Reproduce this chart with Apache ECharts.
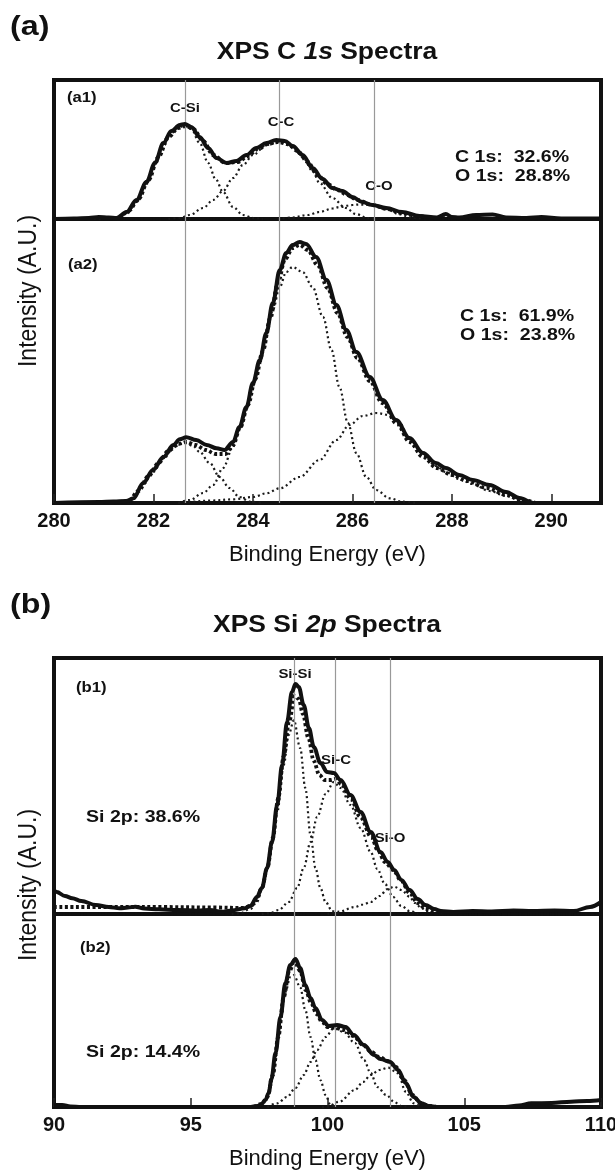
<!DOCTYPE html>
<html>
<head>
<meta charset="utf-8">
<title>XPS C 1s / Si 2p spectra</title>
<script src="https://cdn.jsdelivr.net/npm/echarts@6/dist/echarts.min.js"></script>
<style>
  html, body { margin: 0; padding: 0; background: #fff; }
  #chart { width: 615px; height: 1173px; }
</style>
</head>
<body>
<div id="chart"></div>
<script>
// values, intensity in arbitrary units above each panel's baseline
const cTicks = [280, 282, 284, 286, 288, 290]
const siTicks = [90, 95, 100, 105, 110]
const cPeakLines = [282.64, 284.52, 286.45] // C-Si, C-C, C-O
const siPeakLines = [98.8, 100.3, 102.3] // Si-Si, Si-C, Si-O

// (a1)
const a1Measured = [[280, 0], [280.4, 0.5], [280.7, 1], [280.9, 2], [281.1, 1.5], [281.26, 1], [281.46, 7], [281.66, 19], [281.86, 37], [282.03, 56], [282.2, 76], [282.36, 88], [282.53, 94], [282.63, 95], [282.76, 92], [282.93, 82], [283.1, 71], [283.27, 61], [283.47, 56], [283.67, 58], [283.87, 64], [284.07, 71], [284.27, 76], [284.47, 79], [284.64, 78], [284.8, 73], [285.0, 64], [285.2, 51], [285.4, 40], [285.6, 31], [285.8, 28], [286.0, 22], [286.2, 17], [286.4, 14], [286.68, 11], [287.0, 7], [287.35, 3], [287.7, 1.5], [287.88, 5], [288.0, 2], [288.15, 1.5], [288.49, 4], [288.82, 4.5], [289.09, 1.5], [289.5, 1], [289.8, 2], [290.2, 0.5], [291, 0.5]]
const a1Fit = [[281.0, 0], [281.3, 1], [281.5, 8], [281.7, 20], [281.9, 39], [282.1, 62], [282.3, 82], [282.5, 91], [282.65, 93], [282.8, 90], [283.0, 78], [283.2, 64], [283.45, 56], [283.7, 57], [283.9, 63], [284.1, 70], [284.3, 75], [284.5, 77], [284.7, 75], [284.9, 68], [285.1, 57], [285.3, 44], [285.5, 35], [285.7, 29], [285.9, 24], [286.1, 19], [286.4, 14], [286.7, 10], [287.0, 6], [287.3, 3], [287.7, 1], [288.2, 0]]
const a1CSi = [[280.8, 0], [281.1, 0.5], [281.3, 2], [281.46, 5], [281.66, 17], [281.86, 35], [282.03, 54], [282.2, 73], [282.36, 86], [282.53, 92], [282.63, 93], [282.76, 90], [282.93, 76], [283.1, 56], [283.25, 40], [283.4, 27], [283.6, 12], [283.8, 4], [284.0, 1], [284.2, 0]]
const a1CC = [[282.3, 0], [282.53, 1], [282.73, 4], [283.0, 11], [283.2, 19], [283.4, 28], [283.6, 41], [283.8, 54], [284.0, 64], [284.27, 74], [284.54, 77], [284.8, 72], [285.0, 62], [285.2, 48], [285.34, 36], [285.6, 21], [285.87, 11], [286.07, 5], [286.3, 1], [286.5, 0]]
const a1CO = [[284.5, 0], [284.8, 1.5], [285.1, 4], [285.34, 7], [285.6, 10.5], [285.74, 12], [286.0, 14], [286.14, 14.5], [286.4, 14], [286.68, 10], [286.95, 4.7], [287.2, 1.3], [287.45, 0]]
const a1Base = [[280, 0], [291, 0]]

// (a2)
const a2Measured = [[280, 0], [280.9, 1], [281.2, 1.5], [281.45, 2], [281.6, 4.7], [281.79, 19.7], [281.99, 33], [282.2, 46], [282.4, 58], [282.53, 63.7], [282.66, 65.7], [282.86, 63], [283.07, 58], [283.27, 54.7], [283.43, 53], [283.6, 61], [283.73, 76], [283.87, 96], [284.0, 120], [284.14, 143], [284.27, 170], [284.4, 200], [284.54, 233], [284.67, 250], [284.8, 258], [284.94, 261], [285.07, 259], [285.27, 246], [285.48, 223], [285.68, 198], [285.88, 173], [286.08, 151], [286.35, 126], [286.61, 103], [286.88, 83], [287.15, 65], [287.42, 50], [287.68, 40], [287.88, 35], [288.15, 28], [288.42, 23], [288.76, 18], [289.09, 11], [289.36, 5], [289.64, 0], [291, 0]]
const a2Fit = [[281.2, 0], [281.5, 2], [281.7, 12], [281.9, 27], [282.1, 40], [282.3, 52], [282.5, 59], [282.66, 61], [282.85, 58], [283.05, 53], [283.25, 49], [283.45, 49], [283.6, 58], [283.75, 76], [283.9, 98], [284.05, 124], [284.2, 152], [284.35, 185], [284.5, 220], [284.65, 244], [284.8, 255], [284.94, 258], [285.1, 253], [285.3, 238], [285.5, 215], [285.7, 190], [285.9, 166], [286.1, 145], [286.35, 122], [286.6, 100], [286.9, 79], [287.15, 61], [287.42, 46], [287.7, 35], [288.0, 28], [288.3, 22], [288.7, 15], [289.1, 8], [289.4, 3], [289.7, 0]]
const a2CSi = [[281.2, 0], [281.45, 1], [281.6, 4], [281.79, 18], [281.99, 31], [282.2, 44], [282.4, 55], [282.53, 59], [282.63, 60], [282.8, 57], [282.93, 51], [283.13, 40], [283.33, 26], [283.53, 15], [283.73, 6], [283.94, 1.3], [284.2, 0]]
const a2CC = [[282.5, 0], [282.73, 3], [283.0, 10], [283.2, 18], [283.4, 35], [283.6, 56], [283.73, 75], [283.87, 94], [284.0, 117], [284.14, 140], [284.27, 166], [284.4, 193], [284.54, 216], [284.67, 231], [284.8, 236], [285.0, 231], [285.2, 216], [285.41, 186], [285.58, 153], [285.74, 116], [285.91, 80], [286.08, 50], [286.28, 26], [286.48, 13], [286.75, 4.7], [287.0, 1.3], [287.3, 0]]
const a2CO = [[282.5, 0], [282.73, 1.3], [283.2, 2.5], [283.6, 3.7], [284.0, 6], [284.27, 9.7], [284.54, 14.7], [284.94, 26], [285.34, 43], [285.68, 63], [285.94, 78], [286.21, 87], [286.48, 90], [286.75, 88], [286.95, 80], [287.15, 64], [287.42, 48], [287.68, 37], [287.88, 31], [288.15, 24], [288.42, 19], [288.76, 12], [289.09, 7], [289.36, 3], [289.7, 0]]

// (b1)
const b1Measured = [[90, 24], [90.1, 22], [90.4, 18], [90.67, 15.7], [91.0, 13], [91.53, 9], [92.0, 7], [92.4, 5.7], [92.7, 6.5], [92.97, 7.3], [93.3, 5.5], [93.83, 4.7], [94.5, 4], [95.26, 3.3], [95.7, 4], [96.12, 2.3], [96.5, 3.5], [96.98, 5.7], [97.18, 8], [97.42, 17], [97.6, 26], [97.79, 46], [97.97, 72], [98.16, 109], [98.34, 149], [98.52, 192], [98.7, 222], [98.83, 230], [98.95, 227], [99.13, 209], [99.32, 186], [99.5, 167], [99.74, 151], [99.99, 142], [100.23, 141], [100.48, 134], [100.84, 119], [101.21, 102], [101.58, 82], [101.94, 62], [102.2, 52], [102.44, 44], [102.7, 34], [103.0, 24], [103.3, 15], [103.58, 9], [103.9, 5], [104.15, 3], [104.6, 2], [105.3, 3], [106, 2.5], [106.8, 3.5], [107.5, 3], [108.3, 3.5], [109, 3], [109.6, 7], [110, 12]]
const b1Fit = [[90, 7], [92, 7], [94, 7], [96, 6.5], [96.9, 6], [97.2, 8], [97.4, 14], [97.6, 26], [97.8, 46], [98.0, 76], [98.2, 116], [98.4, 158], [98.6, 193], [98.8, 218], [98.95, 215], [99.1, 200], [99.3, 176], [99.5, 153], [99.7, 139], [99.9, 134], [100.1, 134], [100.3, 135], [100.5, 130], [100.85, 115], [101.2, 97], [101.6, 77], [101.85, 63], [102.1, 52], [102.4, 44], [102.7, 33], [103.0, 21], [103.3, 11], [103.6, 5], [103.9, 2], [104.3, 0], [110, 0]]
const b1SiSi = [[96.5, 0], [96.8, 0.7], [97.18, 5], [97.42, 12], [97.6, 24], [97.79, 44], [97.97, 70], [98.16, 102], [98.4, 149], [98.58, 179], [98.77, 194], [99.0, 166], [99.19, 126], [99.38, 79], [99.56, 46], [99.74, 26], [99.93, 12], [100.17, 3], [100.4, 0]]
const b1SiC = [[97.6, 0], [97.9, 1], [98.22, 4], [98.58, 12], [98.89, 26], [99.13, 46], [99.38, 72], [99.62, 97], [99.93, 120], [100.23, 132], [100.48, 126], [100.84, 109], [101.21, 86], [101.58, 62], [101.82, 45], [102.1, 30], [102.4, 17], [102.7, 8], [103.0, 3], [103.3, 0]]
const b1SiO = [[100.0, 0], [100.43, 2.3], [101.0, 7], [101.3, 9.5], [101.58, 12], [101.9, 18], [102.2, 25], [102.44, 27.3], [102.7, 24], [103.0, 17.3], [103.2, 11], [103.44, 5.7], [103.7, 2.5], [103.9, 1], [104.2, 0]]
const b1Base = [[90, 0], [110, 0]]

// (b2)
const b2Measured = [[90, 2], [90.3, 2], [90.6, 0.5], [91, 0], [97.2, 0], [97.42, 1], [97.56, 2], [97.73, 7], [97.85, 14], [97.95, 28], [98.1, 54], [98.28, 90], [98.46, 124], [98.64, 142], [98.83, 148], [99.0, 139], [99.19, 122], [99.38, 109], [99.56, 99], [99.8, 87], [100.05, 81], [100.35, 82], [100.66, 80], [100.96, 72], [101.33, 62], [101.7, 52], [101.94, 48], [102.29, 45], [102.58, 37], [102.86, 24], [103.15, 10], [103.44, 3.7], [103.7, 1], [104, 0], [106.5, 0], [107, 1.5], [107.45, 3.7], [108.2, 4], [108.9, 5.3], [109.5, 6], [110, 7]]
const b2Fit = [[97.3, 0], [97.6, 3], [97.8, 10], [98.0, 32], [98.2, 70], [98.4, 110], [98.6, 136], [98.8, 145], [99.0, 136], [99.2, 117], [99.4, 104], [99.6, 93], [99.8, 85], [100.0, 80], [100.3, 79], [100.6, 77], [100.95, 71], [101.3, 62], [101.6, 55], [101.9, 50], [102.2, 46], [102.5, 40], [102.8, 27], [103.1, 12], [103.4, 4], [103.7, 1], [104, 0]]
const b2SiSi = [[97.5, 0], [97.73, 6], [97.91, 20], [98.1, 50], [98.28, 85], [98.46, 115], [98.64, 130], [98.77, 132], [99.0, 120], [99.19, 97], [99.38, 70], [99.56, 47], [99.74, 27], [99.93, 12], [100.11, 2], [100.3, 0]]
const b2SiC = [[97.8, 0], [98.16, 3.7], [98.52, 10], [98.83, 19], [99.13, 32], [99.38, 45], [99.62, 57], [99.93, 70], [100.23, 78.7], [100.6, 75], [101.0, 64], [101.33, 47], [101.58, 34], [101.82, 20], [102.15, 12], [102.44, 5], [102.7, 1], [103.0, 0]]
const b2SiO = [[99.8, 0], [100.0, 0.3], [100.43, 5.3], [101.0, 17], [101.3, 25], [101.58, 32], [101.9, 37], [102.22, 39.3], [102.58, 33.7], [102.86, 15.3], [103.15, 3.7], [103.4, 0]]

// panel y ranges (a1, a2, b1, b2)
const yMax = [139, 284, 256, 193]

const FONT = '"Liberation Sans", Arial, Helvetica, sans-serif'
const INK = '#111'
const STRETCH = 1.15 // the printed figure is a little wider than tall

const styles = {
  measured: { color: INK, width: 4, type: 'solid' },
  fit: { color: INK, width: 3.8, type: [3, 2.5] },
  comp: { color: '#1a1a1a', width: 2.2, type: [2, 3] },
  base: { color: INK, width: 3, type: [9, 3, 3, 3] }
}

const peakLines = (values) => ({
  silent: true,
  symbol: 'none',
  label: { show: false },
  lineStyle: { color: '#999', width: 1.2, type: 'solid' },
  data: values.map((v) => ({ xAxis: v }))
})

const line = (grid, data, kind, extra = {}) => ({
  type: 'line',
  xAxisIndex: grid,
  yAxisIndex: grid,
  data,
  smooth: 0.35,
  smoothMonotone: 'x',
  showSymbol: false,
  silent: true,
  animation: false,
  z: kind === 'measured' ? 5 : 3,
  lineStyle: styles[kind],
  ...extra
})

const xAxis = (grid, ticks, max, labelled, showMax) => ({
  type: 'value',
  gridIndex: grid,
  min: ticks[0],
  max,
  interval: ticks[1] - ticks[0],
  axisLine: { show: false },
  splitLine: { show: false },
  axisTick: { show: labelled, inside: true, length: 9, lineStyle: { color: '#222', width: 1.5 } },
  axisLabel: {
    show: labelled,
    color: INK,
    fontFamily: FONT,
    fontWeight: 'bold',
    fontSize: 20,
    margin: 8,
    showMinLabel: true,
    showMaxLabel: showMax
  },
  name: labelled ? 'Binding Energy (eV)' : '',
  nameLocation: 'middle',
  nameGap: 41,
  nameTextStyle: { color: INK, fontFamily: FONT, fontSize: 22 }
})

const text = (str, x, y, size, opts = {}) => ({
  type: 'text',
  silent: true,
  x,
  y,
  rotation: opts.rotation || 0,
  scaleX: opts.rotation ? 1 : STRETCH,
  scaleY: opts.rotation ? STRETCH : 1,
  style: {
    text: str,
    font: `${opts.weight || 'bold'} ${size}px ${FONT}`,
    fill: INK,
    textAlign: opts.align || 'left',
    textVerticalAlign: 'middle',
    rich: opts.rich
  }
})

const italic = (size) => ({ i: { fontStyle: 'italic', fontWeight: 'bold', fontSize: size, fontFamily: FONT, fill: INK } })

const chart = echarts.init(document.getElementById('chart'), null, { renderer: 'canvas' })

chart.setOption({
  backgroundColor: '#fff',
  animation: false,
  grid: [
    { left: 54, top: 80, width: 547, height: 139 },
    { left: 54, top: 219, width: 547, height: 284 },
    { left: 54, top: 658, width: 547, height: 256 },
    { left: 54, top: 914, width: 547, height: 193 }
  ].map((g) => ({ ...g, show: true, borderColor: INK, borderWidth: 4, containLabel: false, outerBoundsMode: 'none' })),
  xAxis: [
    xAxis(0, cTicks, 291, false, false),
    xAxis(1, cTicks, 291, true, false),
    xAxis(2, siTicks, 110, false, true),
    xAxis(3, siTicks, 110, true, true)
  ],
  yAxis: yMax.map((m, i) => ({ type: 'value', gridIndex: i, min: 0, max: m, show: false })),
  series: [
    line(0, a1Base, 'base', { markLine: peakLines(cPeakLines) }),
    line(0, a1CSi, 'comp'),
    line(0, a1CC, 'comp'),
    line(0, a1CO, 'comp'),
    line(0, a1Fit, 'fit'),
    line(0, a1Measured, 'measured'),

    line(1, a2CSi, 'comp', { markLine: peakLines(cPeakLines) }),
    line(1, a2CC, 'comp'),
    line(1, a2CO, 'comp'),
    line(1, a2Fit, 'fit'),
    line(1, a2Measured, 'measured'),

    line(2, b1Base, 'base', { markLine: peakLines(siPeakLines) }),
    line(2, b1SiSi, 'comp'),
    line(2, b1SiC, 'comp'),
    line(2, b1SiO, 'comp'),
    line(2, b1Fit, 'fit'),
    line(2, b1Measured, 'measured'),

    line(3, b2SiSi, 'comp', { markLine: peakLines(siPeakLines) }),
    line(3, b2SiC, 'comp'),
    line(3, b2SiO, 'comp'),
    line(3, b2Fit, 'fit'),
    line(3, b2Measured, 'measured')
  ],
  graphic: [
    text('(a)', 10, 27, 28),
    text('XPS C {i|1s} Spectra', 327, 53, 23, { align: 'center', rich: italic(23) }),
    text('(a1)', 67, 98, 14.5),
    text('C-Si', 185, 108, 13, { align: 'center' }),
    text('C-C', 281, 122, 13, { align: 'center' }),
    text('C-O', 379, 186, 13, { align: 'center' }),
    text('C 1s:  32.6%', 455, 157, 17),
    text('O 1s:  28.8%', 455, 176, 17),
    text('(a2)', 68, 265, 14.5),
    text('C 1s:  61.9%', 460, 316, 17),
    text('O 1s:  23.8%', 460, 335, 17),
    text('Intensity (A.U.)', 29, 291, 23, { weight: 'normal', align: 'center', rotation: Math.PI / 2 }),

    text('(b)', 10, 605, 28),
    text('XPS Si {i|2p} Spectra', 327, 626, 23, { align: 'center', rich: italic(23) }),
    text('Si-Si', 295, 674, 13, { align: 'center' }),
    text('(b1)', 76, 688, 14.5),
    text('Si-C', 336, 760, 13, { align: 'center' }),
    text('Si-O', 390, 838, 13, { align: 'center' }),
    text('Si 2p: 38.6%', 86, 817, 17),
    text('(b2)', 80, 948, 14.5),
    text('Si 2p: 14.4%', 86, 1052, 17),
    text('Intensity (A.U.)', 29, 885, 23, { weight: 'normal', align: 'center', rotation: Math.PI / 2 })
  ]
})
</script>
</body>
</html>
